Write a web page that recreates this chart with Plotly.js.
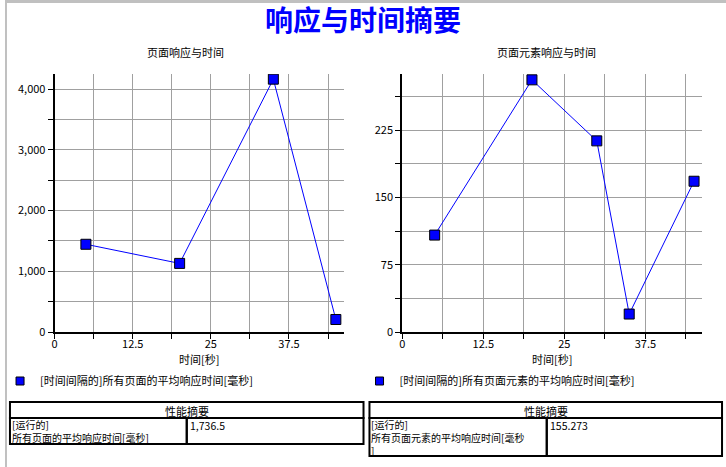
<!DOCTYPE html>
<html>
<head>
<meta charset="utf-8">
<script src="https://cdn.plot.ly/plotly-3.0.1.min.js"></script>
<style>
  html, body { margin: 0; padding: 0; background: #ffffff; }
  #chart { width: 726px; height: 467px; }
</style>
</head>
<body>
<div id="chart"></div>
<script>
// ---------------- data ----------------
const mainTitle = "响应与时间摘要";
const leftTitle = "页面响应与时间";
const rightTitle = "页面元素响应与时间";
const xAxisTitle = "时间[秒]";

const leftTimes = [5, 20, 35, 45];
const leftValues = [1445, 1130, 4165, 206];
const leftSeriesName = "[时间间隔的]所有页面的平均响应时间[毫秒]";

const rightTimes = [5, 20, 30, 35, 45];
const rightValues = [108, 281, 213, 20, 168];
const rightSeriesName = "[时间间隔的]所有页面元素的平均响应时间[毫秒]";

const summaryHeader = "性能摘要";
const leftSummaryLabel = ["[运行的]", "所有页面的平均响应时间[毫秒]"];
const leftSummaryValue = 1736.5;
const rightSummaryLabel = ["[运行的]", "所有页面元素的平均响应时间[毫秒", "]"];
const rightSummaryValue = 155.273;

// ---------------- layout helpers ----------------
const W = 726, H = 467;
const px = v => v / W;
const py = v => 1 - v / H;
const FONT = "Noto Sans CJK SC, Noto Sans, sans-serif";
const BLUE = "#0000ff";
const GRID = "#a0a0a0";

function lineTrace(x, y, xa, ya) {
  return {
    x: x, y: y, xaxis: xa, yaxis: ya, type: "scatter", mode: "lines+markers",
    line: { color: BLUE, width: 1 },
    marker: { symbol: "square", size: 10, color: BLUE, line: { color: "#000000", width: 1 } },
    showlegend: false, hoverinfo: "x+y"
  };
}
function legendTrace(name, xa, ya, leg) {
  return {
    x: [null], y: [null], xaxis: xa, yaxis: ya, type: "scatter", mode: "markers", name: name,
    marker: { symbol: "square", size: 8, color: BLUE, line: { color: "#000000", width: 1 } },
    showlegend: true, legend: leg
  };
}

const data = [
  lineTrace(leftTimes, leftValues, "x", "y"),
  legendTrace(leftSeriesName, "x", "y", "legend"),
  lineTrace(rightTimes, rightValues, "x2", "y2"),
  legendTrace(rightSeriesName, "x2", "y2", "legend2")
];

function xAxis(domain, anchor) {
  return {
    domain: domain, anchor: anchor, range: [0, 46.25], dtick: 12.5, tick0: 0,
    showgrid: true, gridcolor: GRID, gridwidth: 1, zeroline: false,
    showline: true, linecolor: "#000000", linewidth: 2,
    ticks: "outside", ticklen: 5, tickcolor: "#000000", tickwidth: 1,
    ticklabelstandoff: -4,
    tickfont: { family: FONT, size: 11, color: "#000000" },
    minor: { dtick: 6.25, showgrid: true, gridcolor: GRID, gridwidth: 1, ticks: "outside", ticklen: 5, tickcolor: "#000000", tickwidth: 1 },
    title: { text: xAxisTitle, font: { family: FONT, size: 11, color: "#000000" }, standoff: 4 },
    fixedrange: true
  };
}
function yAxis(domain, anchor, max, dtick, fmt) {
  return {
    domain: domain, anchor: anchor, range: [0, max], dtick: dtick, tick0: 0,
    showgrid: true, gridcolor: GRID, gridwidth: 1, zeroline: false,
    showline: true, linecolor: "#000000", linewidth: 2,
    ticks: "outside", ticklen: 5, tickcolor: "#000000", tickwidth: 1,
    tickformat: fmt,
    tickfont: { family: FONT, size: 11, color: "#000000" },
    minor: { dtick: dtick / 2, showgrid: true, gridcolor: GRID, gridwidth: 1, ticks: "outside", ticklen: 5, tickcolor: "#000000", tickwidth: 1 },
    fixedrange: true
  };
}

const yDom = [1 - 332 / H, 1 - 74 / H];

// ---------------- tables (shapes + annotations) ----------------
const shapes = [
  // grey frame strips
  { type: "rect", xref: "paper", yref: "paper", x0: 0, x1: 1, y0: py(3), y1: 1, fillcolor: "#c0c0c0", line: { width: 0 }, layer: "above" },
  { type: "rect", xref: "paper", yref: "paper", x0: 0, x1: px(2), y0: 0, y1: 1, fillcolor: "#c0c0c0", line: { width: 0 }, layer: "above" }
];
const annotations = [
  { text: leftTitle, xref: "paper", yref: "paper", x: px(182), y: py(52), xanchor: "center", yanchor: "middle", showarrow: false, font: { family: FONT, size: 11, color: "#000000" } },
  { text: rightTitle, xref: "paper", yref: "paper", x: px(545), y: py(52), xanchor: "center", yanchor: "middle", showarrow: false, font: { family: FONT, size: 11, color: "#000000" } }
];

function addTable(x0, xm, x1, yTop, yMid, yBot, labelLines, valueText) {
  const cell = (a, b, c, d) => ({ type: "rect", xref: "paper", yref: "paper", x0: px(a), x1: px(b), y0: py(d), y1: py(c), line: { color: "#000000", width: 2 }, fillcolor: "rgba(0,0,0,0)", layer: "above" });
  shapes.push(cell(x0, x1, yTop, yMid));
  shapes.push(cell(x0, xm, yMid, yBot));
  shapes.push(cell(xm, x1, yMid, yBot));
  annotations.push({ text: summaryHeader, xref: "paper", yref: "paper", x: px((x0 + x1) / 2), y: py((yTop + yMid) / 2 + 0.5), xanchor: "center", yanchor: "middle", showarrow: false, font: { family: FONT, size: 11, color: "#000000" } });
  annotations.push({ text: labelLines.join("<br>"), xref: "paper", yref: "paper", x: px(x0 + 1), y: py(yMid - 2), xanchor: "left", yanchor: "top", align: "left", borderpad: 0, showarrow: false, font: { family: FONT, size: 10, color: "#000000" } });
  annotations.push({ text: valueText, xref: "paper", yref: "paper", x: px(xm + 2), y: py(yMid - 1), xanchor: "left", yanchor: "top", borderpad: 0, showarrow: false, font: { family: FONT, size: 10.5, color: "#000000" } });
}
const fmtNum = v => v.toLocaleString("en-US", { maximumFractionDigits: 3 });
addTable(5, 183, 361, 402, 418, 444, leftSummaryLabel, fmtNum(leftSummaryValue));
addTable(367, 545.5, 722, 402, 418, 456, rightSummaryLabel, fmtNum(rightSummaryValue));

const layout = {
  width: W, height: H,
  margin: { l: 0, r: 0, t: 0, b: 0 },
  paper_bgcolor: "#ffffff", plot_bgcolor: "#ffffff",
  font: { family: FONT, size: 11, color: "#000000" },
  title: { text: mainTitle, x: 0.5, xanchor: "center", y: py(21), yanchor: "middle",
           font: { family: FONT, size: 28, color: BLUE, weight: "bold" } },
  xaxis: xAxis([50 / W, 341 / W], "y"),
  yaxis: yAxis(yDom, "x", 4250, 1000, ","),
  xaxis2: xAxis([400 / W, 702 / W], "y2"),
  yaxis2: yAxis(yDom, "x2", 287.5, 75, ""),
  legend: { x: px(-5), xanchor: "left", y: py(381), yanchor: "middle", bgcolor: "rgba(0,0,0,0)", font: { family: FONT, size: 11, color: "#000000" } },
  legend2: { x: px(357), xanchor: "left", y: py(381), yanchor: "middle", bgcolor: "rgba(0,0,0,0)", font: { family: FONT, size: 11, color: "#000000" } },
  shapes: shapes,
  annotations: annotations,
  showlegend: true
};

Plotly.newPlot("chart", data, layout, { displayModeBar: false, staticPlot: true });
</script>
</body>
</html>
